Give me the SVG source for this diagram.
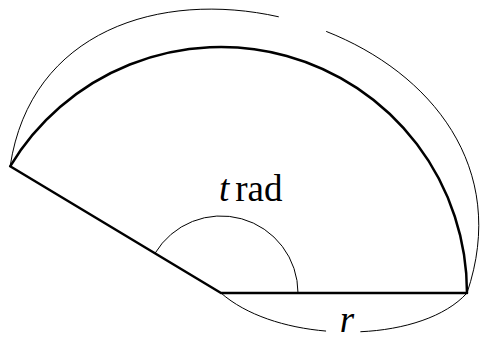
<svg xmlns="http://www.w3.org/2000/svg" width="480" height="340" viewBox="0 0 480 340">
<style>
.thick{fill:none;stroke:#000;stroke-width:2.5;stroke-linejoin:round}
.thin{fill:none;stroke:#000;stroke-width:1}
.lbl{font-family:"Liberation Serif","DejaVu Serif",serif;font-size:37px;fill:#000}
</style>
<rect width="480" height="340" fill="#fff"/>
<g id="sector">
<path class="thick" d="M 10.14 166.3 A 246 246 0 0 1 467 293 L 221 293 Z"/>
</g>
<g id="angle">
<path class="thin" d="M 298 293 A 77 77 0 0 0 155 253.3"/>
<text class="lbl" x="219" y="201"><tspan font-style="italic">t</tspan><tspan dx="6">rad</tspan></text>
</g>
<g id="connectors">
<path class="thin" d="M 10.14 166.3 C 52 -114 562 13 467 293" pathLength="1000" stroke-dasharray="478 68 1000"/>
<path class="thin" d="M 221 293 C 280 345 420 345 467 293" pathLength="1000" stroke-dasharray="430 130 1000"/>
<text class="lbl" x="347" y="332" text-anchor="middle" font-style="italic" font-size="36">r</text>
</g>
</svg>
